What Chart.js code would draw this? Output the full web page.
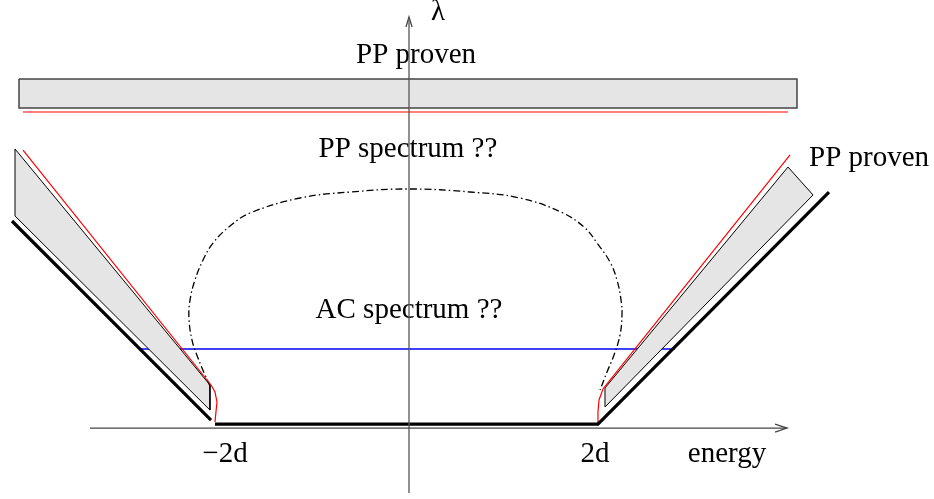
<!DOCTYPE html>
<html lang="en">
<head>
    <meta charset="UTF-8">
    <title>Spectrum diagram</title>
    <script src="https://cdn.jsdelivr.net/npm/chart.js@4.4.2/dist/chart.umd.min.js"></script>
    <style>
        body { margin: 0; background: #fff; }
        canvas { display: block; }
    </style>
</head>
<body>
    <canvas id="diagram" width="934" height="499"></canvas>

    <script>
        // --- Data (energy in units of d, lambda in same units) ---
        const energyAxis = [[-3.358, 0], [3.979, 0]];
        const energyArrow = [[3.853, 0.042], [3.979, 0], [3.853, -0.042]];
        const lambdaAxis = [[0, -0.684], [0, 4.326]];
        const lambdaArrow = [[-0.032, 4.221], [0, 4.326], [0.032, 4.221]];

        // spectrum of the free operator: thick boundary
        const spectrumLeft = [[-4.179, 2.179], [-2.084, 0.084]];
        const spectrumEdge = [[-2.042, 0.042], [1.989, 0.042], [4.421, 2.484]];

        // proven pure point regions (shaded)
        const ppTopBar = [[-4.105, 3.674], [4.084, 3.674], [4.084, 3.368], [-4.105, 3.368], [-4.105, 3.674]];
        const ppLeftWedge = [[-4.147, 2.937], [-2.095, 0.453], [-2.095, 0.189], [-4.147, 2.232], [-4.147, 2.937]];
        const ppRightWedge = [[2.063, 0.421], [3.989, 2.747], [4.253, 2.453], [2.063, 0.221], [2.063, 0.421]];

        // red boundaries
        const redTop = [[-4.063, 3.326], [3.989, 3.326]];
        const redLeft = [[-4.063, 2.926], [-2.084, 0.453], [-2.042, 0.379], [-2.021, 0.274], [-2.032, 0.168], [-2.042, 0.063]];
        const redRight = [[4.011, 2.874], [2.116, 0.505], [2.042, 0.411], [2.0, 0.295], [1.989, 0.168], [1.989, 0.053]];

        // blue level line
        const blueLevel = [[-2.832, 0.832], [2.8, 0.832]];

        // conjectured AC region (dash-dot)
        const acBoundary = [
            [-2.095, 0.442], [-2.147, 0.558], [-2.221, 0.737], [-2.284, 0.926], [-2.316, 1.158],
            [-2.305, 1.347], [-2.253, 1.558], [-2.168, 1.768], [-2.063, 1.947], [-1.884, 2.126],
            [-1.674, 2.263], [-1.147, 2.421], [-0.621, 2.484], [0.011, 2.516], [0.642, 2.484],
            [1.168, 2.421], [1.621, 2.263], [1.853, 2.105], [1.979, 1.947], [2.116, 1.747],
            [2.189, 1.558], [2.232, 1.347], [2.242, 1.189], [2.221, 0.979], [2.158, 0.768],
            [2.084, 0.589], [2.011, 0.4]
        ];

        // text labels (x centre, y baseline)
        const labelText = ['\u03bb', 'PP proven', 'PP spectrum ??', 'AC spectrum ??', 'PP proven', '\u22122d', '2d', 'energy'];
        const labelX = [0.305, 0.074, -0.011, 0, 4.842, -1.937, 1.958, 3.347];
        const labelY = [4.295, 3.842, 2.853, 1.158, 2.758, -0.358, -0.358, -0.358];

        const toXY = pts => pts.map(p => ({ x: p[0], y: p[1] }));

        function path(pts, color, width, extra) {
            return Object.assign({
                data: toXY(pts),
                showLine: true,
                borderColor: color,
                borderWidth: width,
                pointRadius: 0,
                fill: false,
                tension: 0,
                clip: false
            }, extra || {});
        }

        // labels drawn under the lines (axis passes over the text)
        const labelPlugin = {
            id: 'labels',
            beforeDatasetsDraw(chart) {
                const ctx = chart.ctx;
                const xs = chart.scales.x, ys = chart.scales.y;
                ctx.save();
                ctx.fillStyle = '#000';
                ctx.font = '29px "Liberation Serif", "DejaVu Serif", serif';
                ctx.textAlign = 'center';
                ctx.textBaseline = 'alphabetic';
                labelText.forEach((t, i) => {
                    ctx.fillText(t, xs.getPixelForValue(labelX[i]), ys.getPixelForValue(labelY[i]));
                });
                ctx.restore();
            }
        };

        const ctx = document.getElementById('diagram').getContext('2d');
        new Chart(ctx, {
            type: 'scatter',
            data: {
                datasets: [
                    path(energyAxis, '#444', 1.3, { order: 0 }),
                    path(energyArrow, '#444', 1.3, { order: 0 }),
                    path(lambdaAxis, '#555', 1.3, { order: 0 }),
                    path(lambdaArrow, '#444', 1.3, { order: 0 }),
                    path(spectrumLeft, '#000', 3.2, { order: 1 }),
                    path(spectrumEdge, '#000', 3.2, { order: 1, borderJoinStyle: 'miter' }),
                    path(redTop, '#ff0000', 1.2, { order: 1 }),
                    path(redLeft, '#ff0000', 1.2, { order: 1 }),
                    path(redRight, '#ff0000', 1.2, { order: 1 }),
                    path(blueLevel, '#0000ff', 1.3, { order: 3 }),
                    path(acBoundary, '#000', 1.3, { order: 1, tension: 0.4, borderDash: [7, 3, 1.5, 3] }),
                    path(ppTopBar, '#444', 1.5, { order: 2, fill: 'shape', backgroundColor: '#e5e5e5' }),
                    path(ppLeftWedge, '#000', 1, { order: 2, fill: 'shape', backgroundColor: '#e5e5e5' }),
                    path(ppRightWedge, '#000', 1, { order: 2, fill: 'shape', backgroundColor: '#e5e5e5' })
                ]
            },
            options: {
                responsive: false,
                animation: false,
                layout: { padding: 0 },
                scales: {
                    x: { type: 'linear', display: false, min: -4.305, max: 5.526 },
                    y: { type: 'linear', display: false, min: -0.747, max: 4.505 }
                },
                plugins: {
                    legend: { display: false },
                    tooltip: { enabled: false }
                }
            },
            plugins: [labelPlugin]
        });
    </script>
</body>
</html>
